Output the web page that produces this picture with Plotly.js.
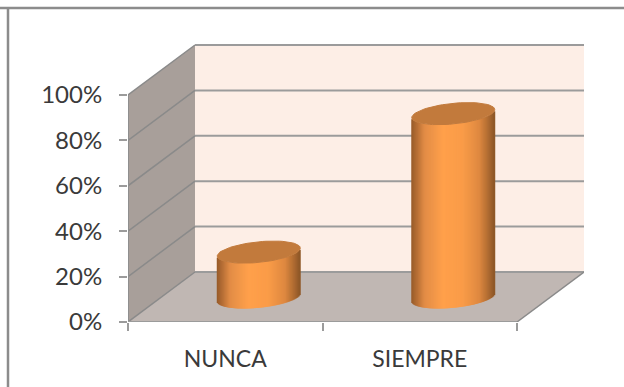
<!DOCTYPE html>
<html>
<head>
<meta charset="utf-8">
<script src="https://cdn.plot.ly/plotly-3.0.1.min.js"></script>
<style>html,body{margin:0;padding:0;background:#fff}#c{width:624px;height:387px}</style>
</head>
<body>
<div id="c"></div>
<script>
// Data
const categories = ['NUNCA', 'SIEMPRE'];
const values = [0.20, 0.81];
const yTicks = [0, 0.2, 0.4, 0.6, 0.8, 1];

// Layout of the pseudo-3D box, in axis units
const W = 624, H = 387;
const L = 128, R = 584, T = 44, B = 322;
const pxX = 194.5, pxY = 227;          // pixels per category / per 100%
const depthX = 67 / pxX, depthY = 50 / pxY;
const xMax = (R - L) / pxX, yMax = (B - T) / pxY;
const halfW = 41.5 / pxX;              // cylinder radius
const ellB = 10.3 / pxY, ellS = 4 / pxY; // ellipse half height and tilt
const stripN = 82;

function shade(u) {   // u in 0..1 across the cylinder
  const stops = [[0,[150,90,40]],[0.06,[178,108,52]],[0.16,[226,140,70]],[0.38,[255,160,75]],
                 [0.62,[250,156,72]],[0.82,[222,136,64]],[0.94,[170,104,48]],[1,[140,86,38]]];
  for (let i = 1; i < stops.length; i++) {
    if (u <= stops[i][0]) {
      const a = stops[i-1], b = stops[i], t = (u - a[0]) / (b[0] - a[0]);
      const c = a[1].map((v, k) => Math.round(v + (b[1][k] - v) * t));
      return `rgb(${c[0]},${c[1]},${c[2]})`;
    }
  }
  return 'rgb(140,86,38)';
}

const stripX = [], stripBase = [], stripH = [], stripC = [];
const traces = [];
categories.forEach((cat, i) => {
  const cx = i + 0.5 + depthX / 2, cyB = depthY / 2 - 0.5 / pxY, v = values[i];
  for (let k = 0; k < stripN; k++) {
    const u = (k + 0.5) / stripN * 2 - 1;
    const low = cyB - ellB * Math.sqrt(1 - u * u) + ellS * u;
    stripX.push(cx + u * halfW);
    stripBase.push(low);
    stripH.push(v);
    stripC.push(shade((u + 1) / 2));
  }
});
traces.push({
  type: 'bar', x: stripX, base: stripBase, y: stripH, width: 2 / pxX,
  marker: {color: stripC, line: {width: 0}}, hoverinfo: 'skip', showlegend: false
});
categories.forEach((cat, i) => {
  const cx = i + 0.5 + depthX / 2, cyT = depthY / 2 - 0.5 / pxY + values[i];
  const ex = [], ey = [];
  for (let d = 0; d <= 360; d += 5) {
    const t = d * Math.PI / 180;
    ex.push(cx + halfW * Math.cos(t));
    ey.push(cyT + ellB * Math.sin(t) + ellS * Math.cos(t));
  }
  traces.push({
    type: 'scatter', mode: 'lines', x: ex, y: ey, fill: 'toself', fillcolor: '#c27a3c',
    line: {color: '#c27a3c', width: 1}, hoverinfo: 'skip', showlegend: false
  });
});

const grid = '#9b9b9b';
const poly = (pts, fill) => ({
  type: 'path', xref: 'x', yref: 'y', layer: 'below', line: {width: 0}, fillcolor: fill,
  path: 'M' + pts.map(p => p.join(',')).join('L') + 'Z'
});
const seg = (x0, y0, x1, y1, w, c) => ({
  type: 'line', xref: 'x', yref: 'y', layer: 'below', x0, y0, x1, y1, line: {color: c || grid, width: w}
});
const shapes = [
  poly([[depthX, depthY], [xMax, depthY], [xMax, 1 + depthY], [depthX, 1 + depthY]], '#fdeee6'),
  poly([[0, 0], [0, 1], [depthX, 1 + depthY], [depthX, depthY]], '#a89f9a'),
  poly([[0, 0], [2, 0], [xMax, depthY], [depthX, depthY]], '#c0b7b3')
];
yTicks.forEach(t => {
  shapes.push(seg(0, t, depthX, t + depthY, 1.5, '#8a8a8a'));
  shapes.push(seg(depthX, t + depthY, xMax, t + depthY, 2));
});
shapes.push(seg(0, 0, 0, 1, 2, '#8f8f8f'));
shapes.push(seg(0, 0, 2, 0, 2));
shapes.push(seg(2, 0, xMax, depthY, 1.5, '#8a8a8a'));
// outer frame: top and left only
shapes.push({type:'line', xref:'paper', yref:'paper', x0:-L/(R-L), x1:(W-L)/(R-L),
  y0:(H-8-(H-B))/(B-T), y1:(H-8-(H-B))/(B-T), line:{color:'#8c8c8c', width:2.5}});
shapes.push({type:'line', xref:'paper', yref:'paper', x0:(8-L)/(R-L), x1:(8-L)/(R-L),
  y0:-(H-B)/(B-T), y1:(H-8-(H-B))/(B-T), line:{color:'#8c8c8c', width:2.5}});

const font = {family: 'Lato, "Open Sans", sans-serif', size: 24, color: '#3a3a3a'};
Plotly.newPlot('c', traces, {
  width: W, height: H, autosize: false,
  margin: {l: L, r: W - R, t: T, b: H - B, pad: 0},
  paper_bgcolor: '#fff', plot_bgcolor: 'rgba(0,0,0,0)',
  barmode: 'overlay', showlegend: false,
  font,
  xaxis: {
    range: [0, xMax], showgrid: false, zeroline: false, showline: false,
    tickmode: 'array', tickvals: categories.map((c, i) => i + 0.5), ticktext: categories,
    ticks: '', ticklen: 0, tickfont: {...font, size: 23}, ticklabelstandoff: 21,
    minor: {tickmode: 'array', tickvals: [0, 1, 2], ticks: 'outside', ticklen: 8, tickwidth: 2, tickcolor: grid, showgrid: false}
  },
  yaxis: {
    range: [0, yMax], showgrid: false, zeroline: false, showline: false,
    tickmode: 'array', tickvals: yTicks, tickformat: '.0%',
    ticks: 'outside', ticklen: 8, tickwidth: 2, tickcolor: grid, tickfont: font, ticklabelstandoff: 12
  },
  shapes
}, {displayModeBar: false, staticPlot: true});
</script>
</body>
</html>
